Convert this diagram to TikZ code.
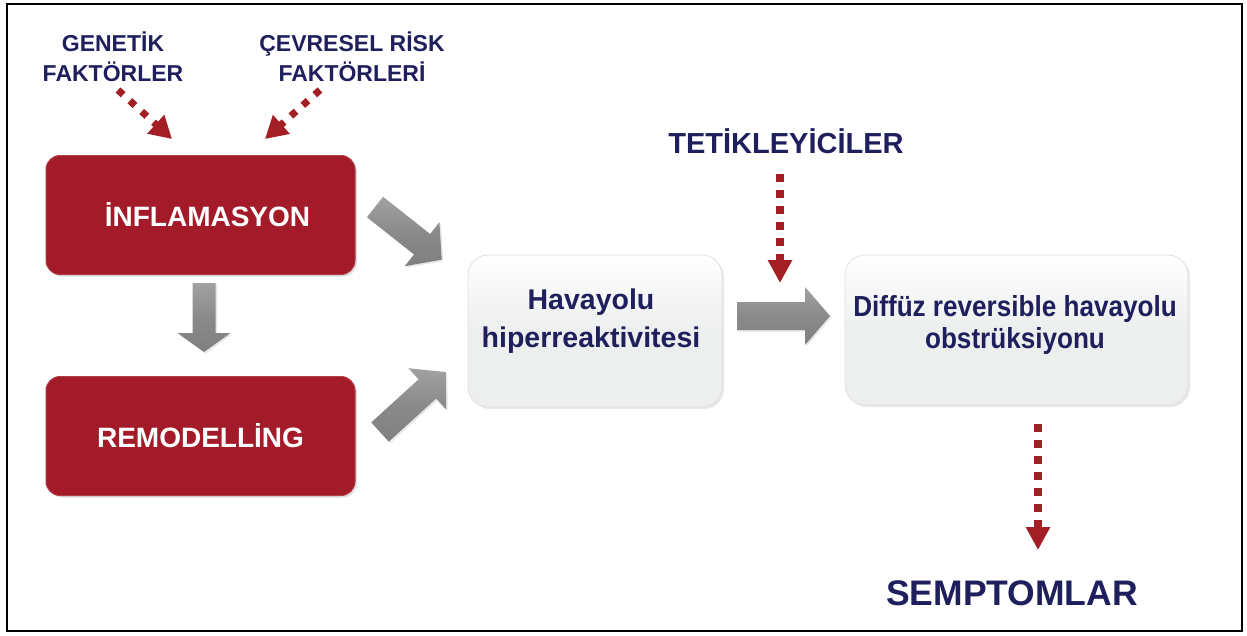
\documentclass[tikz,border=0pt]{standalone}
\usepackage{fontspec}
\setmainfont{Liberation Sans}
\newfontfamily\narrowfont[FakeStretch=0.9]{Liberation Sans}
\usetikzlibrary{arrows.meta,shadows}
\definecolor{navy}{HTML}{1E1F5C}
\definecolor{dred}{HTML}{A41E25}
\definecolor{boxred}{HTML}{A31B29}
\definecolor{garrow}{HTML}{8A8A8A}
\definecolor{glight}{HTML}{EDEEEE}
\newcommand\blockarrow[6]{%
  \begin{scope}[shift={(#1)},rotate=#2]
    \path[top color=garrow!80!white, bottom color=garrow!92!black, middle color=garrow,
          drop shadow={opacity=0.2,shadow xshift=1.5pt,shadow yshift=-1.5pt}]
      (0,-#4) -- ({#3-#6},-#4) -- ({#3-#6},-#5) -- (#3,0) -- ({#3-#6},#5) -- ({#3-#6},#4) -- (0,#4) -- cycle;
  \end{scope}}
\begin{document}
\begin{tikzpicture}[x=1pt,y=-1pt,
  redbox/.style={rounded corners=14pt, minimum width=309pt, minimum height=119pt,
    inner sep=0pt, fill=boxred, draw=boxred!85!white, line width=1pt, text=white,
    font=\bfseries\fontsize{28}{32}\selectfont,
    drop shadow={opacity=0.25,shadow xshift=2pt,shadow yshift=-2pt}},
  greybox/.style={rounded corners=20pt, inner sep=0pt, top color=white, bottom color=glight,
    middle color=glight, draw=black!12, line width=0.8pt,
    drop shadow={opacity=0.18,shadow xshift=2pt,shadow yshift=-2pt}},
  navytext/.style={text=navy, align=center, inner sep=0pt},
  dotarrow/.style={draw=dred, line width=7.5pt, dash pattern=on 7.5pt off 8.5pt,
    -{Triangle[width=23pt,length=23pt,fill=dred]}}
]
\useasboundingbox (0,0) rectangle (1247,635);
\draw[black, line width=2.2pt] (7,4) rectangle (1242,631);

% text labels
\node[navytext, font=\bfseries\fontsize{23}{30}\selectfont] (gen) at (113,57) {GENETİK\\FAKTÖRLER};
\node[navytext, font=\bfseries\fontsize{23}{30}\selectfont] (cev) at (352,57) {ÇEVRESEL RİSK\\FAKTÖRLERİ};
\node[navytext, font=\bfseries\fontsize{29}{32}\selectfont] (tet) at (786,141) {TETİKLEYİCİLER};
\node[navytext, font=\bfseries\fontsize{35.5}{40}\selectfont] (sem) at (1012,593) {SEMPTOMLAR};

% boxes
\node[redbox] (inf) at (200.5,215) {\hspace*{14pt}İNFLAMASYON};
\node[redbox] (rem) at (200.5,436) {REMODELLİNG};
\node[greybox, minimum width=254pt, minimum height=152pt] (hav) at (595,331) {};
\node[greybox, minimum width=343pt, minimum height=150pt] (dif) at (1016.5,330) {};
\node[navytext, font=\bfseries\fontsize{28.5}{38}\selectfont] (havt) at (591,321) {Havayolu\\hiperreaktivitesi};
\node[navytext, font=\narrowfont\bfseries\fontsize{29}{32}\selectfont] (dift) at (1015,325) {Diffüz reversible havayolu\\obstrüksiyonu};

% grey block arrows
\coordinate (a1) at (204,283);
\coordinate (a2) at (375,207);
\coordinate (a3) at (380,432);
\coordinate (a4) at (737,316);
\blockarrow{a1}{-90}{69}{11.5}{26.5}{19}
\blockarrow{a2}{-38.3}{85}{13}{28}{25}
\blockarrow{a3}{42.3}{89}{13}{28}{25}
\blockarrow{a4}{0}{93}{14}{29}{25}

% red dotted arrows
\coordinate (g1) at (118,90);
\coordinate (g2) at (172,139);
\coordinate (c1) at (320,90);
\coordinate (c2) at (265,139);
\coordinate (t1) at (780,174);
\coordinate (t2) at (780,283);
\coordinate (s1) at (1038,424);
\coordinate (s2) at (1038,550);
\draw[dotarrow, line width=7pt, dash pattern=on 7pt off 9pt, -{Triangle[width=24pt,length=22pt,fill=dred]}] (g1) -- (g2);
\draw[dotarrow, line width=7pt, dash pattern=on 7pt off 9pt, -{Triangle[width=24pt,length=22pt,fill=dred]}] (c1) -- (c2);
\draw[dotarrow] (t1) -- (t2);
\draw[dotarrow] (s1) -- (s2);
\end{tikzpicture}
\end{document}
